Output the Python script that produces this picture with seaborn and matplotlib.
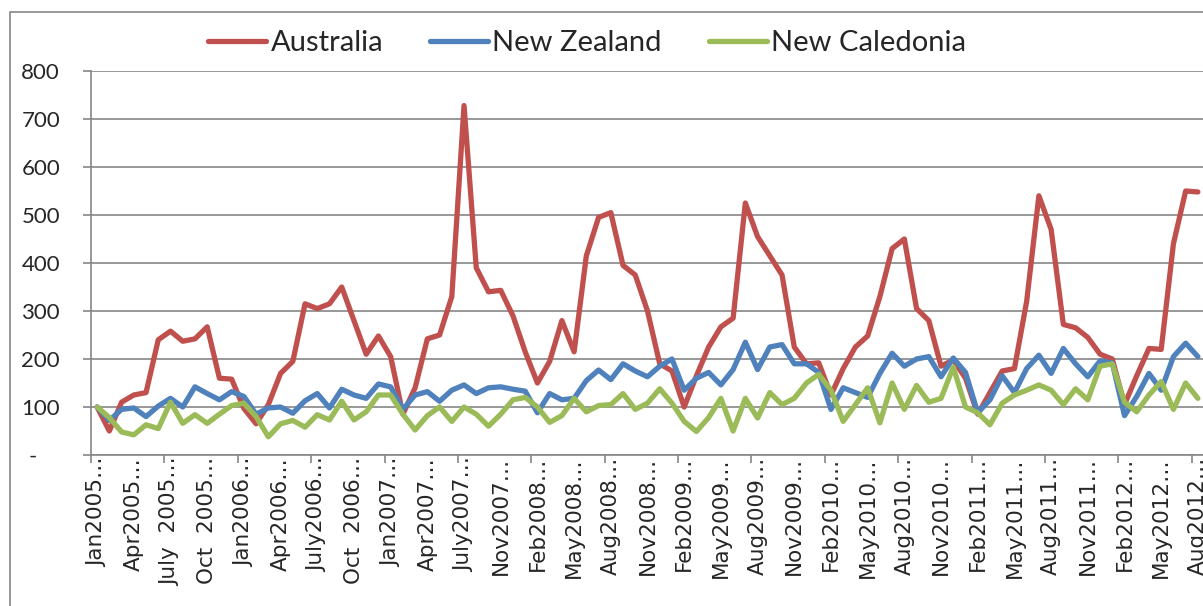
import numpy as np
import pandas as pd
import matplotlib
matplotlib.use("Agg")
import matplotlib.pyplot as plt
import seaborn as sns
from matplotlib.patches import Rectangle

sns.set_style("white")
plt.rcParams['font.family'] = ['Lato', 'DejaVu Sans']

# monthly index (Jan2005 = 100), one month of 2007 is merged so 91 points
tick_labels = ["Jan2005…", "Apr2005…", "July  2005…", "Oct  2005…", "Jan2006…", "Apr2006…",
               "July2006…", "Oct  2006…", "Jan2007…", "Apr2007…", "July2007…", "Nov2007…",
               "Feb2008…", "May2008…", "Aug2008…", "Nov2008…", "Feb2009…", "May2009…",
               "Aug2009…", "Nov2009…", "Feb2010…", "May2010…", "Aug2010…", "Nov2010…",
               "Feb2011…", "May2011…", "Aug2011…", "Nov2011…", "Feb2012…", "May2012…", "Aug2012…"]

australia = [100, 50, 110, 125, 130, 240, 258, 237, 242, 267, 160, 158, 97, 65, 105, 170,
             195, 315, 305, 315, 350, 280, 210, 248, 205, 85, 140, 242, 250, 330, 728, 390,
             340, 343, 290, 215, 150, 195, 280, 215, 415, 495, 505, 395, 375, 300, 190, 175,
             100, 165, 225, 267, 285, 525, 455, 415, 375, 225, 190, 192, 125, 180, 225, 248,
             330, 430, 450, 305, 280, 185, 198, 160, 85, 130, 175, 180, 320, 540, 470, 272,
             265, 245, 210, 200, 105, 165, 222, 220, 440, 550, 548]

new_zealand = [100, 72, 95, 98, 80, 102, 118, 100, 142, 128, 115, 132, 122, 85, 98, 100,
               87, 113, 128, 98, 137, 125, 118, 148, 142, 95, 125, 132, 112, 135, 146, 128,
               140, 142, 137, 133, 88, 128, 115, 118, 155, 177, 157, 190, 175, 163, 185, 200,
               135, 160, 172, 146, 178, 235, 178, 225, 230, 190, 190, 172, 95, 140, 130, 120,
               170, 212, 185, 200, 205, 163, 202, 172, 88, 115, 165, 130, 180, 208, 170, 222,
               190, 163, 196, 192, 82, 122, 170, 135, 205, 233, 205]

new_caledonia = [100, 78, 48, 42, 63, 55, 110, 66, 84, 66, 85, 103, 108, 80, 38, 65,
                 72, 58, 84, 73, 112, 73, 90, 125, 125, 85, 52, 82, 100, 70, 100, 85,
                 60, 85, 115, 120, 100, 68, 82, 118, 90, 103, 105, 128, 95, 108, 138, 108,
                 70, 49, 78, 118, 50, 118, 77, 130, 105, 118, 150, 168, 135, 70, 105, 140,
                 67, 150, 95, 145, 110, 118, 183, 100, 88, 63, 108, 125, 135, 146, 135, 105,
                 138, 115, 185, 190, 110, 90, 125, 153, 95, 150, 118]

countries = ['Australia', 'New Zealand', 'New Caledonia']
colors = ['#C0504D', '#4F81BD', '#9BBB59']

df = pd.DataFrame({'Australia': australia, 'New Zealand': new_zealand,
                   'New Caledonia': new_caledonia})
df['month'] = np.arange(len(df))
data = df.melt(id_vars='month', var_name='country', value_name='index')

fig = plt.figure(figsize=(12.03, 6.06), dpi=100)
ax = fig.add_axes([91 / 1203, 151 / 606, 1113 / 1203, 384 / 606])

sns.lineplot(data=data, x='month', y='index', hue='country', hue_order=countries,
             palette=dict(zip(countries, colors)), linewidth=3.8, ax=ax, legend=False)
for line in ax.lines:
    line.set_solid_joinstyle('round')
    line.set_solid_capstyle('round')

# axes
grey = '#868686'
ax.set_xlim(-0.5, len(df) - 0.5)
ax.set_ylim(0, 800)
ax.set_xlabel('')
ax.set_ylabel('')
ax.set_yticks(range(0, 801, 100))
ax.set_yticklabels(['-    '] + [str(v) for v in range(100, 801, 100)])
ax.yaxis.grid(True, color=grey, linewidth=1.2)
ax.set_axisbelow(True)
ax.tick_params(axis='y', left=True, length=5.8, width=1.2, color=grey, pad=16.5,
               labelsize=16, direction='out')

ax.set_xticks(np.arange(0, len(df), 3))
ax.set_xticklabels(tick_labels, rotation=90, fontsize=15.5, family='DejaVu Sans',
                   va='top', ha='center')
ax.tick_params(axis='x', which='major', length=0, pad=1.5)
ax.set_xticks(np.arange(-0.5, len(df), 6), minor=True)
ax.tick_params(axis='x', which='minor', bottom=True, length=5.8, width=1.2, color=grey,
               direction='out')

for side in ['top', 'right']:
    ax.spines[side].set_visible(False)
for side in ['left', 'bottom']:
    ax.spines[side].set_color(grey)
    ax.spines[side].set_linewidth(1.2)

# legend across the top
fig.legend(ax.lines[:3], countries, loc='center', bbox_to_anchor=(0.488, 0.929), ncol=3,
           frameon=False, fontsize=21, handlelength=2.0, handletextpad=0.15,
           columnspacing=1.6)

# chart border (runs off the bottom and right of the picture)
fig.patches.append(Rectangle((9.5 / 1203, -0.05), 1.1, (606 - 11.7) / 606 + 0.05,
                             transform=fig.transFigure, fill=False, edgecolor=grey,
                             linewidth=1.2))

fig.savefig('out.png', dpi=100)
